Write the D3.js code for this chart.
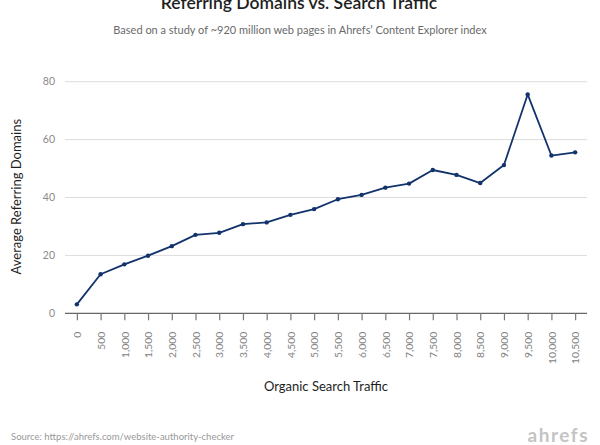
<!DOCTYPE html>
<html>
<head>
<meta charset="utf-8">
<script src="https://cdn.jsdelivr.net/npm/d3@7"></script>
<style>
  body { margin: 0; background: #fff; }
  text { font-family: Lato, "Open Sans", sans-serif; }
</style>
</head>
<body>
<svg id="chart" width="600" height="445"></svg>
<script>
// traffic buckets (x) and average referring domains (y)
let traffic = [0, 500, 1000, 1500, 2000, 2500, 3000, 3500, 4000, 4500, 5000,
               5500, 6000, 6500, 7000, 7500, 8000, 8500, 9000, 9500, 10000, 10500];
let domains = [3.1, 13.5, 16.9, 19.9, 23.2, 27.1, 27.8, 30.8, 31.4, 34.0, 36.0,
               39.4, 40.9, 43.4, 44.8, 49.5, 47.8, 45.0, 51.2, 75.6, 54.5, 55.6];
let yTicks = [0, 20, 40, 60, 80];

let svg = d3.select('#chart');
let plotLeft = 65, plotRight = 587, plotTop = 81.7, plotBottom = 313.3;

let x = d3.scalePoint()
          .domain(traffic)
          .range([plotLeft, plotRight])
          .padding(0.5);
let y = d3.scaleLinear()
          .domain([0, 80])
          .range([plotBottom, plotTop]);

// gridlines
svg.append('g')
   .selectAll('line')
   .data(yTicks.slice(1))
   .enter().append('line')
   .attr('x1', plotLeft).attr('x2', plotRight)
   .attr('y1', d => y(d)).attr('y2', d => y(d))
   .attr('stroke', '#dcdcdc')
   .attr('stroke-width', 1);

// y axis labels
svg.append('g')
   .selectAll('text')
   .data(yTicks)
   .enter().append('text')
   .attr('x', 55)
   .attr('y', d => y(d))
   .attr('dy', '0.36em')
   .attr('text-anchor', 'end')
   .attr('font-size', '10.5px')
   .attr('fill', '#8a8a8a')
   .text(d => d);

// x axis
let xAxis = svg.append('g')
               .attr('transform', 'translate(0,' + plotBottom + ')')
               .call(d3.axisBottom(x).tickSize(7).tickSizeOuter(0)
                       .tickFormat(d3.format(',')));
xAxis.select('.domain')
     .attr('d', 'M' + plotLeft + ',0H' + plotRight)
     .attr('stroke', '#666')
     .attr('stroke-width', 1.3);
xAxis.selectAll('.tick line')
     .attr('stroke', '#777')
     .attr('stroke-width', 1.2);
xAxis.selectAll('.tick text')
     .attr('font-family', 'Lato, sans-serif')
     .attr('font-size', '10.3px')
     .attr('fill', '#808080')
     .attr('transform', 'rotate(-90)')
     .attr('text-anchor', 'end')
     .attr('x', -18.5)
     .attr('y', 0)
     .attr('dy', '0.36em');

// line and points
let line = d3.line()
             .x((d, i) => x(traffic[i]))
             .y(d => y(d));
svg.append('path')
   .datum(domains)
   .attr('d', line)
   .attr('fill', 'none')
   .attr('stroke', '#12336b')
   .attr('stroke-width', 1.8)
   .attr('stroke-linejoin', 'round');
svg.append('g')
   .selectAll('circle')
   .data(domains)
   .enter().append('circle')
   .attr('cx', (d, i) => x(traffic[i]))
   .attr('cy', d => y(d))
   .attr('r', 2.2)
   .attr('fill', '#12336b');

// titles
svg.append('text')
   .attr('x', 299).attr('y', 8.5)
   .attr('text-anchor', 'middle')
   .attr('font-size', '17.5px')
   .attr('font-weight', 600)
   .attr('fill', '#1e1e1e')
   .text('Referring Domains vs. Search Traffic');
svg.append('text')
   .attr('x', 300).attr('y', 34.3)
   .attr('text-anchor', 'middle')
   .attr('font-size', '11px')
   .attr('fill', '#6a6a6a')
   .text('Based on a study of ~920 million web pages in Ahrefs\u2019 Content Explorer index');

svg.append('text')
   .attr('transform', 'translate(20.5,196.7) rotate(-90)')
   .attr('text-anchor', 'middle')
   .attr('font-size', '13px')
   .attr('fill', '#1e1e1e')
   .text('Average Referring Domains');
svg.append('text')
   .attr('x', 326).attr('y', 391)
   .attr('text-anchor', 'middle')
   .attr('font-size', '13px')
   .attr('fill', '#1e1e1e')
   .text('Organic Search Traffic');

svg.append('text')
   .attr('x', 11).attr('y', 439.5)
   .attr('font-size', '9.5px')
   .attr('fill', '#999')
   .text('Source: https://ahrefs.com/website-authority-checker');
svg.append('text')
   .attr('x', 587.5).attr('y', 441.5)
   .attr('text-anchor', 'end')
   .attr('font-size', '19px')
   .attr('font-weight', 700)
   .attr('fill', '#c4c4c4')
   .attr('textLength', 60)
   .text('ahrefs');
</script>
</body>
</html>
